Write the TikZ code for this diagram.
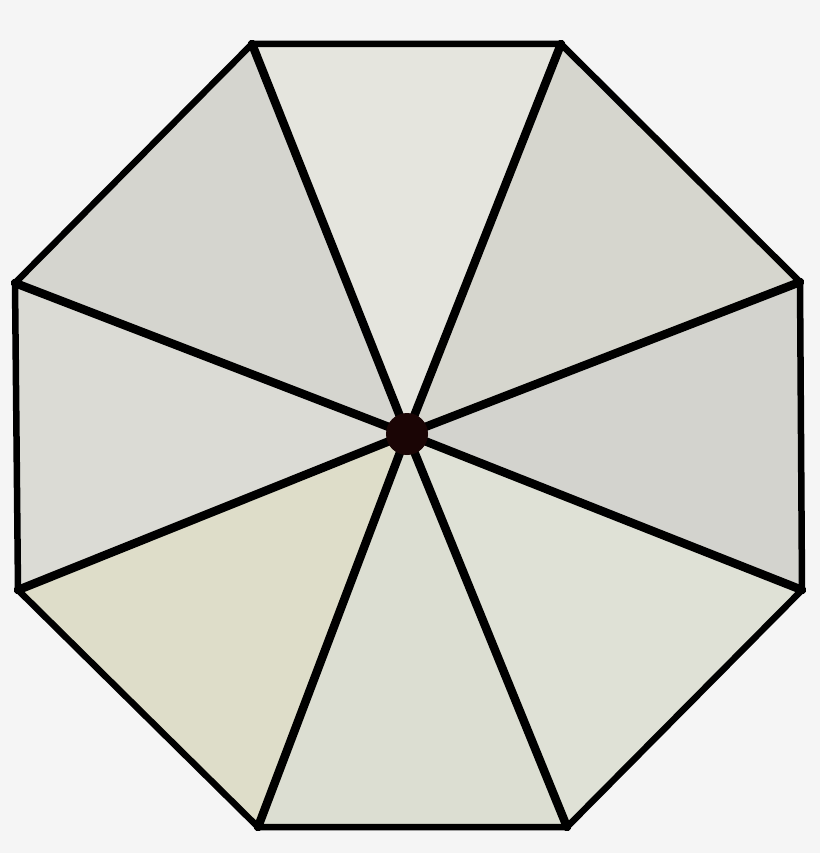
\documentclass[tikz,border=0pt]{standalone}
\usepackage{tikz}
\usetikzlibrary{backgrounds}

\definecolor{page-bg}{HTML}{F5F5F5}
\definecolor{wedge-top}{HTML}{E5E5DE}
\definecolor{wedge-topright}{HTML}{D6D6CE}
\definecolor{wedge-right}{HTML}{D3D3CE}
\definecolor{wedge-bottomright}{HTML}{DFE1D6}
\definecolor{wedge-bottom}{HTML}{DCDED2}
\definecolor{wedge-bottomleft}{HTML}{DEDDC9}
\definecolor{wedge-left}{HTML}{DBDBD5}
\definecolor{wedge-topleft}{HTML}{D5D5CF}
\definecolor{hub-fill}{HTML}{1A0505}

\begin{document}
\begin{tikzpicture}[
        x=1pt, y=-1pt,
        rim/.style={draw=black, line width=6.5pt, line join=miter},
        spoke/.style={draw=black, line width=8.5pt, line cap=round},
        hub/.style={circle, fill=hub-fill, minimum size=42pt, inner sep=0pt}
    ]

    % Page
    \useasboundingbox[fill=page-bg] (0,0) rectangle (820,853);

    % Corners of the octagon and its centre
    \coordinate (centre) at (407,434);
    \coordinate (top-left) at (252,44);
    \coordinate (top-right) at (561,44);
    \coordinate (right-top) at (800,282);
    \coordinate (right-bottom) at (802,590);
    \coordinate (bottom-right) at (567,827);
    \coordinate (bottom-left) at (258,827);
    \coordinate (left-bottom) at (18,590);
    \coordinate (left-top) at (15,283);

    % Wedges
    \fill[wedge-top] (centre) -- (top-left) -- (top-right) -- cycle;
    \fill[wedge-topright] (centre) -- (top-right) -- (right-top) -- cycle;
    \fill[wedge-right] (centre) -- (right-top) -- (right-bottom) -- cycle;
    \fill[wedge-bottomright] (centre) -- (right-bottom) -- (bottom-right) -- cycle;
    \fill[wedge-bottom] (centre) -- (bottom-right) -- (bottom-left) -- cycle;
    \fill[wedge-bottomleft] (centre) -- (bottom-left) -- (left-bottom) -- cycle;
    \fill[wedge-left] (centre) -- (left-bottom) -- (left-top) -- cycle;
    \fill[wedge-topleft] (centre) -- (left-top) -- (top-left) -- cycle;

    % Spokes
    \draw[spoke] (centre) -- (top-left);
    \draw[spoke] (centre) -- (top-right);
    \draw[spoke] (centre) -- (right-top);
    \draw[spoke] (centre) -- (right-bottom);
    \draw[spoke] (centre) -- (bottom-right);
    \draw[spoke] (centre) -- (bottom-left);
    \draw[spoke] (centre) -- (left-bottom);
    \draw[spoke] (centre) -- (left-top);

    % Rim
    \draw[rim] (top-left) -- (top-right) -- (right-top) -- (right-bottom)
        -- (bottom-right) -- (bottom-left) -- (left-bottom) -- (left-top) -- cycle;

    % Hub
    \node[hub] (hub) at (centre) {};

\end{tikzpicture}
\end{document}
